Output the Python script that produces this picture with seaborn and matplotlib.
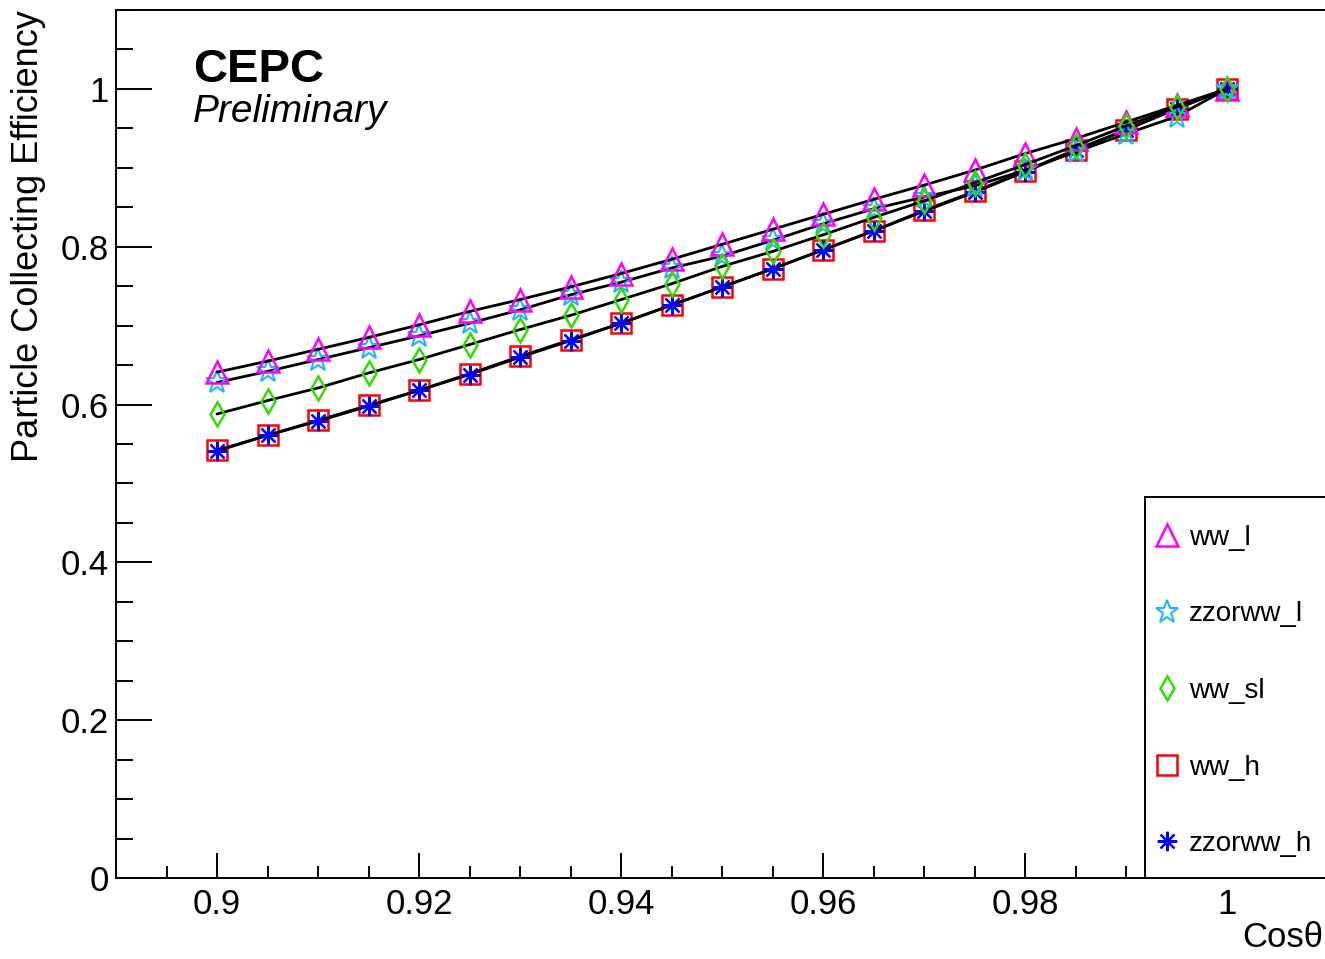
import matplotlib
matplotlib.use("Agg")
import matplotlib.pyplot as plt
from matplotlib.lines import Line2D
from matplotlib.patches import Rectangle
from matplotlib.ticker import MultipleLocator, FuncFormatter
import numpy as np
import pandas as pd
import seaborn as sns

# cos(theta) cut values
cos_theta = [0.900, 0.905, 0.910, 0.915, 0.920, 0.925, 0.930, 0.935, 0.940, 0.945,
             0.950, 0.955, 0.960, 0.965, 0.970, 0.975, 0.980, 0.985, 0.990, 0.995, 1.000]

# particle collecting efficiency per sample
ww_l = [0.641, 0.655, 0.670, 0.685, 0.701, 0.718, 0.733, 0.749, 0.766, 0.784,
        0.803, 0.822, 0.841, 0.860, 0.878, 0.897, 0.918, 0.937, 0.958, 0.979, 1.000]
zzorww_l = [0.628, 0.642, 0.657, 0.672, 0.687, 0.703, 0.720, 0.739, 0.755, 0.773,
            0.788, 0.808, 0.829, 0.848, 0.863, 0.877, 0.897, 0.920, 0.943, 0.965, 1.000]
ww_sl = [0.588, 0.605, 0.621, 0.640, 0.657, 0.676, 0.695, 0.713, 0.733, 0.753,
         0.775, 0.794, 0.815, 0.837, 0.858, 0.881, 0.904, 0.928, 0.953, 0.977, 1.000]
ww_h = [0.542, 0.561, 0.580, 0.599, 0.618, 0.639, 0.661, 0.682, 0.703, 0.726,
        0.749, 0.772, 0.796, 0.820, 0.846, 0.870, 0.896, 0.923, 0.948, 0.975, 1.000]
zzorww_h = [0.541, 0.561, 0.579, 0.598, 0.618, 0.638, 0.660, 0.681, 0.703, 0.726,
            0.749, 0.772, 0.796, 0.820, 0.845, 0.869, 0.895, 0.922, 0.948, 0.975, 1.000]

labels = ["ww_l", "zzorww_l", "ww_sl", "ww_h", "zzorww_h"]
values = {"ww_l": ww_l, "zzorww_l": zzorww_l, "ww_sl": ww_sl,
          "ww_h": ww_h, "zzorww_h": zzorww_h}

x_ticks_major = 0.02
y_ticks_major = 0.2

# marker style per sample
styles = {
    "ww_l": dict(marker="^", color="#FF00FF", ms=16, mew=1.8),
    "zzorww_l": dict(marker="*", color="#1EB4FF", ms=17, mew=1.5),
    "ww_sl": dict(marker="d", color="#2FDD00", ms=12, mew=1.8),
    "ww_h": dict(marker="s", color="#FF0000", ms=15, mew=1.8),
    "zzorww_h": dict(marker=(8, 2, 0), color="#0000FF", ms=14, mew=1.6),
}
draw_order = ["ww_h", "zzorww_h", "zzorww_l", "ww_l", "ww_sl"]

sns.set_theme(style="white")
plt.rcParams["font.family"] = ["Liberation Sans", "DejaVu Sans"]
plt.rcParams["text.color"] = "black"

fig = plt.figure(figsize=(13.25, 9.59), dpi=100)
W, H = 1325, 959
ax = fig.add_axes([116 / W, (H - 878) / H, 1212 / W, 868 / H])

df = pd.DataFrame({"cos": cos_theta, **values})
for i, name in enumerate(draw_order):
    st = styles[name]
    sns.lineplot(data=df, x="cos", y=name, ax=ax, color="black", lw=2.0,
                 marker=st["marker"], ms=st["ms"], mfc="none",
                 mec=st["color"], mew=st["mew"], errorbar=None,
                 legend=False, zorder=3 + i)

ax.set_xlim(0.89, 1.01)
ax.set_ylim(0, 1.1)

ax.xaxis.set_major_locator(MultipleLocator(x_ticks_major))
ax.xaxis.set_minor_locator(MultipleLocator(0.005))
ax.yaxis.set_major_locator(MultipleLocator(y_ticks_major))
ax.yaxis.set_minor_locator(MultipleLocator(0.05))
fmt = FuncFormatter(lambda v, p: f"{round(v, 4):g}")
ax.xaxis.set_major_formatter(fmt)
ax.yaxis.set_major_formatter(fmt)

ax.tick_params(which="both", direction="in", color="black", width=1.4,
               labelsize=25, labelcolor="black",
               bottom=True, left=True, top=False, right=False)
ax.tick_params(axis="x", which="major", length=18, pad=7)
ax.tick_params(axis="x", which="minor", length=9)
ax.tick_params(axis="y", which="major", length=26, pad=5)
ax.tick_params(axis="y", which="minor", length=12.5)

for side in ["left", "bottom", "top", "right"]:
    ax.spines[side].set_color("black")
    ax.spines[side].set_linewidth(1.4)

ax.set_xlabel("Cosθ", fontsize=25, color="black", ha="right")
ax.xaxis.set_label_coords((1323 - 116) / 1212, -(921 - 878) / 868)
ax.set_ylabel("Particle Collecting Efficiency", fontsize=26, color="black", ha="right")
ax.yaxis.set_label_coords((46 - 116) / 1212, 1.0)

fig.text(193 / W, 1 - 82 / H, "CEPC", fontsize=34, fontweight="bold",
         va="baseline", ha="left", color="black")
fig.text(193 / W, 1 - 122 / H, "Preliminary", fontsize=28, style="italic",
         va="baseline", ha="left", color="black")

# legend box
fig.patches.append(Rectangle((1145 / W, (H - 878) / H), 0.3, 381 / H,
                             transform=fig.transFigure, facecolor="white",
                             edgecolor="black", lw=1.4, zorder=1))

handles = [Line2D([], [], ls="none", marker=styles[n]["marker"], ms=styles[n]["ms"],
                  mfc="none", mec=styles[n]["color"], mew=styles[n]["mew"])
           for n in labels]
leg = fig.legend(handles, labels, loc="center left",
                 bbox_to_anchor=(1156 / W, 1 - 691 / H), frameon=False,
                 borderpad=0, borderaxespad=0, handlelength=0.8,
                 handletextpad=0.4, labelspacing=1.82, fontsize=20,
                 labelcolor="black")
leg.set_zorder(6)

fig.savefig("out.png", dpi=100, facecolor="white")
